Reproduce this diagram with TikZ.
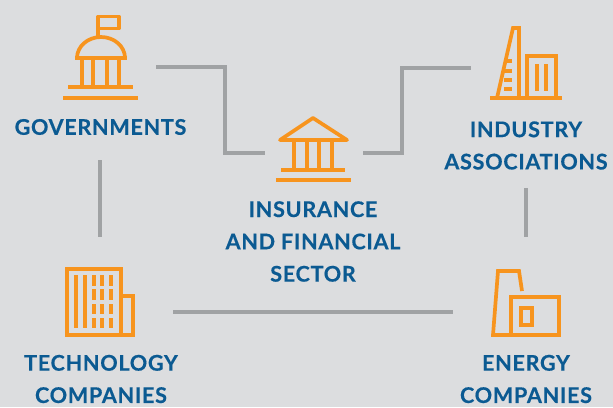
\documentclass[tikz,border=0pt]{standalone}
\usepackage{fontspec}
\setmainfont[LetterSpace=3.2,BoldFeatures={FakeBold=0.35}]{Lato}
\definecolor{bgc}{HTML}{DCDDDF}
\definecolor{ico}{HTML}{F7941E}
\definecolor{lnk}{HTML}{A0A2A4}
\definecolor{txt}{HTML}{0B5A92}
\tikzset{
  icon/.style={draw=ico,line width=3.7pt,line cap=butt,line join=miter},
  link/.style={draw=lnk,line width=3.2pt},
  lab/.style={text=txt,font=\bfseries\fontsize{21.6}{32.3}\selectfont,align=center,inner sep=0pt}
}
\begin{document}
\begin{tikzpicture}[x=1pt,y=-1pt]
\path[use as bounding box,fill=bgc] (0,0) rectangle (613,407);
% labels
\node[lab] (gov) at (100.5,127) {GOVERNMENTS};
\node[lab] (ind) at (526,145.5) {INDUSTRY\\ASSOCIATIONS};
\node[lab] (ins) at (313,241.5) {INSURANCE\\AND FINANCIAL\\SECTOR};
\node[lab] (tec) at (101,379) {TECHNOLOGY\\COMPANIES};
\node[lab] (ene) at (526,379) {ENERGY\\COMPANIES};
% connector ends
\coordinate (a1) at (156,67); \coordinate (a2) at (265,153);
\coordinate (b1) at (363,153); \coordinate (b2) at (471,68);
\coordinate (c1) at (100,160); \coordinate (c2) at (100,237);
\coordinate (d1) at (526,188); \coordinate (d2) at (526,237);
\coordinate (e1) at (173,312); \coordinate (e2) at (453,312);
\draw[link] (a1) -- (225,67) -- (225,153) -- (a2);
\draw[link] (b1) -- (402,153) -- (402,68) -- (b2);
\draw[link] (c1) -- (c2);
\draw[link] (d1) -- (d2);
\draw[link] (e1) -- (e2);
% government icon
\draw[icon,line join=round] (98,37) -- (98,16.5) -- (119,16.5) -- (119,28.5) -- (98,28.5);
\draw[icon] (75,58) -- (127,58);
\draw[icon] (77,58) arc[start angle=180,end angle=360,x radius=24,y radius=21];
\foreach \x in {82,93,107,119} \draw[icon] (\x,58) -- (\x,87);
\draw[icon] (68,87) -- (133,87);
\draw[icon] (63,98) -- (138,98);
% industry icon
\draw[icon] (497,98) -- (513,28) -- (519,28) -- (519,98);
\foreach \y in {60.7,70.7,80,89} \draw[icon] (504,\y) -- (512,\y);
\draw[icon] (490,98) -- (562,98);
\draw[icon] (527,98) -- (527,56) -- (556,56) -- (556,98);
\draw[icon] (537,64) -- (537,91);
\draw[icon] (546,64) -- (546,91);
% bank icon
\draw[icon,line join=round] (280,140) -- (313,118) -- (347,140) -- cycle;
\foreach \x in {294,307,319,332} \draw[icon] (\x,140) -- (\x,170);
\draw[icon] (281,170) -- (345,170);
\draw[icon] (276,180) -- (351,180);
% technology icon
\draw[icon] (67,269) rectangle (121,335);
\draw[icon] (121,296) -- (133,296) -- (133,335) -- (121,335);
\foreach \x in {76,85} \draw[icon] (\x,275) -- (\x,328);
\foreach \x in {94,102,111} {
  \draw[icon] (\x,275) -- (\x,286);
  \draw[icon] (\x,289) -- (\x,300);
  \draw[icon] (\x,304) -- (\x,314);
  \draw[icon] (\x,318) -- (\x,328);
}
% energy icon
\draw[icon] (522,291) -- (519,271) -- (498,271) -- (493,335) -- (559,335) -- (559,297) -- (511,297) -- (511,335);
\draw[icon] (521,308) rectangle (532,325);
\end{tikzpicture}
\end{document}
